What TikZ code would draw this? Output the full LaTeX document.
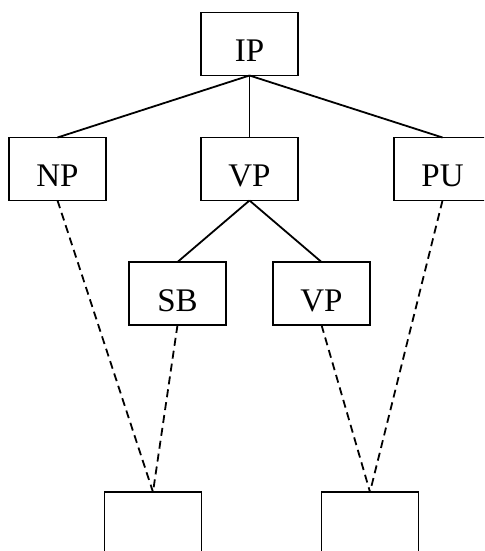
\documentclass[tikz,border=0pt]{standalone}
\usepackage{fontspec}
\setmainfont{Liberation Serif}
\begin{document}
\begin{tikzpicture}[x=0.5pt,y=-0.5pt,
    cell/.style = {rectangle,draw=black,line width=0.9pt,minimum width=48.5pt,minimum height=31.5pt,inner sep=0pt,outer sep=0mm,text height=17.6pt,text depth=0pt,font=\fontsize{16.5}{19}\selectfont},
    link/.style = {line width=0.9pt},
    trace/.style = {line width=0.9pt,dash pattern=on 4pt off 2.5pt}]
\clip (0,0) rectangle (484,551);
\node[cell] (ip) at (249.5, 44) {IP};
\node[cell] (np) at (57.5, 169) {NP};
\node[cell] (vp) at (249.5, 169) {VP};
\node[cell] (pu) at (442.5, 169) {PU};
\node[cell] (sb) at (177.5, 293.5) {SB};
\node[cell] (vpb) at (321.5, 293.5) {VP};
\node[cell] (ea) at (153, 523.5) {};
\node[cell] (eb) at (370, 523.5) {};
\foreach \c in {np, vp, pu}
    \draw[link] (ip.south) -- (\c.north);
\foreach \c in {sb, vpb}
    \draw[link] (vp.south) -- (\c.north);
\foreach \p/\e in {np/ea, sb/ea, vpb/eb, pu/eb}
    \draw[trace] (\p.south) -- (\e.north);
\end{tikzpicture}
\end{document}
